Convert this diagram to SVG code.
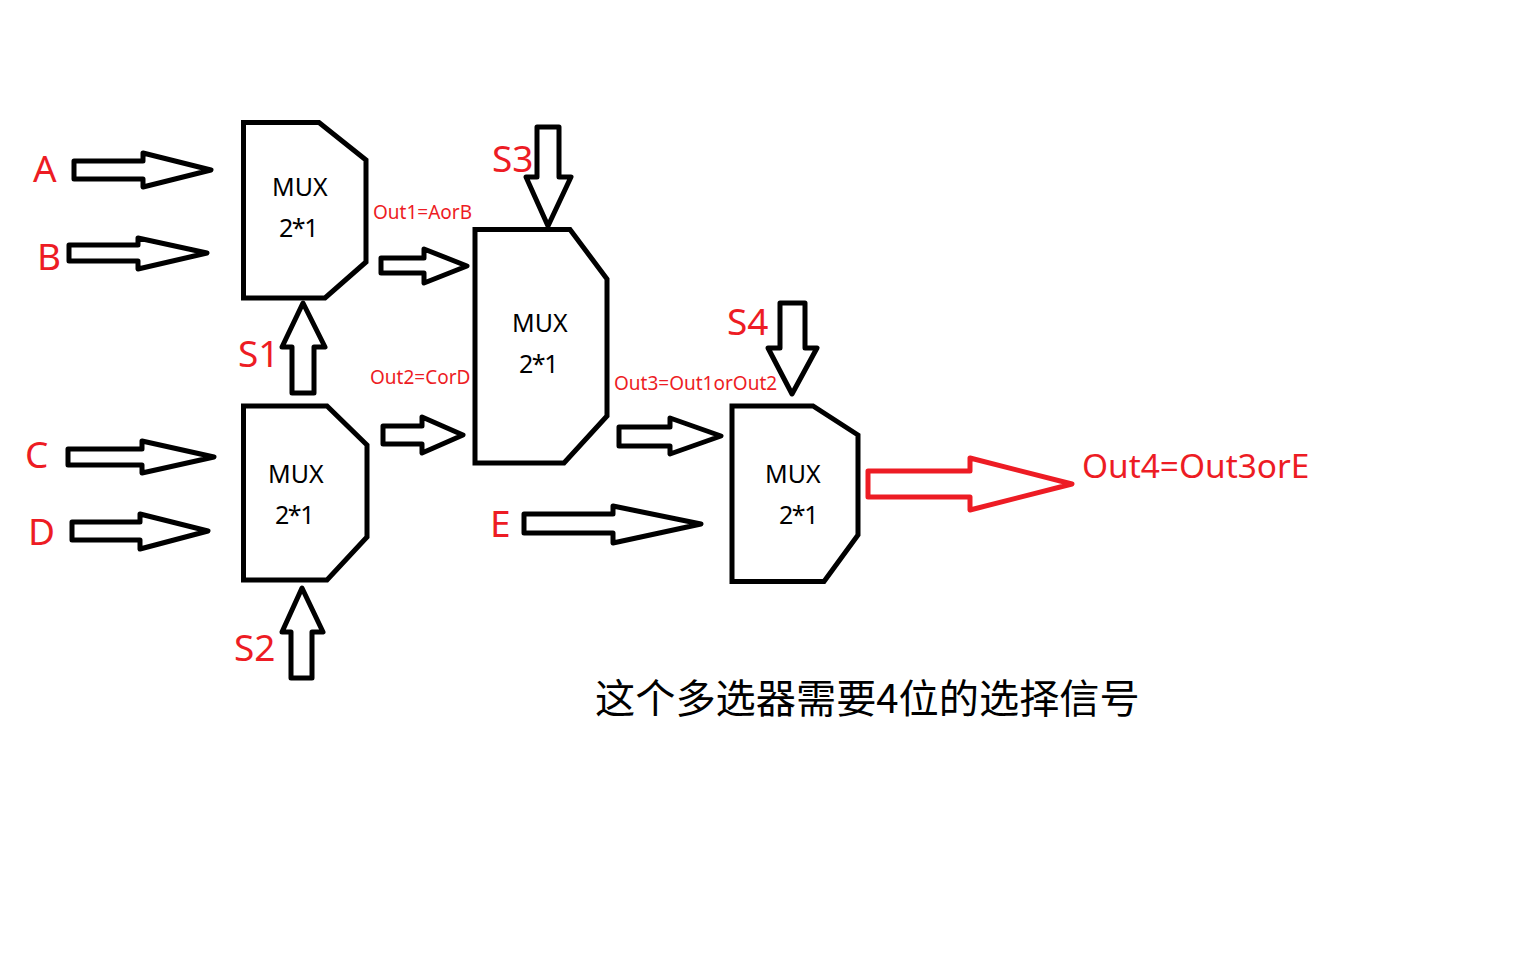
<svg xmlns="http://www.w3.org/2000/svg" width="1536" height="960" viewBox="0 0 1536 960">
<style>
text{font-family:"Noto Sans","Noto Sans CJK SC",sans-serif}
.mux{fill:none;stroke:#000;stroke-width:5;stroke-linejoin:miter;stroke-linecap:square}
.arrow{fill:none;stroke:#000;stroke-width:5;stroke-linejoin:round}
.red{stroke:#ed1c24}
.lbl{fill:#ed1c24;font-size:37px}
.small{fill:#ed1c24;font-size:19px}
.t{fill:#000;font-size:25px}
</style>
<rect width="1536" height="960" fill="#fff"/>
<g id="connectors">
<path id="arrow-A" class="arrow" d="M74,161H143V153L211,170L143,187V179H74Z"/>
<path id="arrow-B" class="arrow" d="M69,245H138V238L207,253L138,269V261H69Z"/>
<path id="arrow-C" class="arrow" d="M68,449H142V441L214,457L142,473V465H68Z"/>
<path id="arrow-D" class="arrow" d="M72,522H140V514L208,531L140,549V540H72Z"/>
<path id="arrow-S1" class="arrow" d="M292,393V347H282L303,303L325,347H314V393Z"/>
<path id="arrow-S2" class="arrow" d="M291,678V632H282L302,588L323,632H312V678Z"/>
<path id="arrow-S3" class="arrow" d="M537,127V177H526L548,226L571,177H559V127Z"/>
<path id="arrow-S4" class="arrow" d="M780,303V348H768L792,394L817,348H805V303Z"/>
<path id="arrow-out1" class="arrow" d="M381,258H424V249L467,266L424,283V273H381Z"/>
<path id="arrow-out2" class="arrow" d="M383,426H422V417L463,435L422,453V444H383Z"/>
<path id="arrow-out3" class="arrow" d="M619,427H670V418L721,436L670,454V446H619Z"/>
<path id="arrow-E" class="arrow" d="M524,514H613V506L701,524L613,543V533H524Z"/>
<path id="arrow-out4" class="arrow red" d="M868,471H970V458L1072,484L970,510V497H868Z"/>
</g>
<g id="mux1"><path class="mux" d="M243.500,122.500H319L366,160V262L325,298H243.500Z"/><text class="t" x="272" y="196">MUX</text><text class="t" x="279" y="237" textLength="39.500">2*1</text></g>
<g id="mux2"><path class="mux" d="M243.500,406H327L367,445V537L327,580H243.500Z"/><text class="t" x="268" y="483">MUX</text><text class="t" x="275" y="524" textLength="39.500">2*1</text></g>
<g id="mux3"><path class="mux" d="M475,229.500H570L607,279V416L564,463H475Z"/><text class="t" x="512" y="332">MUX</text><text class="t" x="519" y="373" textLength="39.500">2*1</text></g>
<g id="mux4"><path class="mux" d="M732,406H813L858,435V535L824,581.500H732Z"/><text class="t" x="765" y="483">MUX</text><text class="t" x="779" y="524" textLength="39.500">2*1</text></g>
<g id="labels">
<text class="lbl" x="33" y="182">A</text>
<text class="lbl" x="37" y="270">B</text>
<text class="lbl" x="25" y="468">C</text>
<text class="lbl" x="28" y="545">D</text>
<text class="lbl" x="490" y="537">E</text>
<text class="lbl" x="238" y="367">S1</text>
<text class="lbl" x="234" y="661">S2</text>
<text class="lbl" x="492" y="172">S3</text>
<text class="lbl" x="727" y="335">S4</text>
<text class="small" x="373" y="219">Out1=AorB</text>
<text class="small" x="370" y="384">Out2=CorD</text>
<text class="small" x="614" y="390">Out3=Out1orOut2</text>
<text x="1082" y="478" fill="#ed1c24" font-size="33.400">Out4=Out3orE</text>
<text x="595" y="713" fill="#000" font-size="40.200" style="font-family:'Noto Sans CJK SC','Noto Sans',sans-serif">这个多选器需要4位的选择信号</text>
</g>
</svg>
